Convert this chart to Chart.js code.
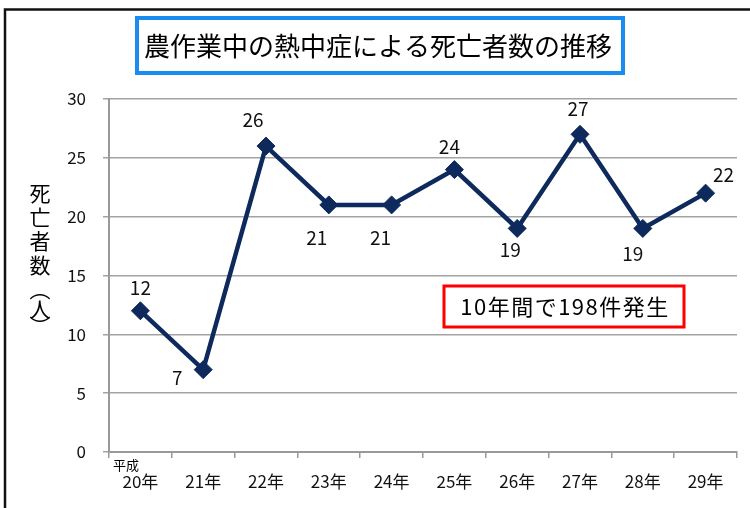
<!DOCTYPE html>
<html>
<head>
<meta charset="utf-8">
<script src="https://cdn.jsdelivr.net/npm/chart.js@4.4.1/dist/chart.umd.min.js"></script>
<style>
  html,body{margin:0;padding:0;background:#fff;overflow:hidden}
  canvas{display:block}
</style>
</head>
<body>
<canvas id="chart" width="750" height="508"></canvas>
<script>
const years = ['20年','21年','22年','23年','24年','25年','26年','27年','28年','29年'];
const deaths = [12, 7, 26, 21, 21, 24, 19, 27, 19, 22];
const yTicks = [0, 5, 10, 15, 20, 25, 30];
const chartTitle = '農作業中の熱中症による死亡者数の推移';
const yTitle = ['死', '亡', '者', '数', '︵', '人', '︶'];
const note = '10年間で198件発生';
const eraLabel = '平成';

const FONT = '"Noto Sans CJK JP", "Noto Sans", sans-serif';
const NAVY = '#0e2a5c';

// where each value label sits relative to its point
const labelShift = [[0,-23],[-26,8],[-13,-26],[-12,33],[-11,33],[-5,-23],[-7,21],[-2,-26],[-10,25],[18,-18]];

const overlay = {
  id: 'overlay',
  afterDraw(chart){
    const ctx = chart.ctx;
    ctx.save();

    // outer frame (left + top only)
    ctx.strokeStyle = '#111';
    ctx.lineWidth = 2.5;
    ctx.beginPath();
    ctx.moveTo(5, 508);
    ctx.lineTo(5, 9.5);
    ctx.lineTo(750, 9.5);
    ctx.stroke();

    // title box
    ctx.fillStyle = '#fff';
    ctx.fillRect(137, 18, 486, 55);
    ctx.strokeStyle = '#1a8cf0';
    ctx.lineWidth = 4;
    ctx.strokeRect(137, 18, 486, 55);
    ctx.fillStyle = '#000';
    ctx.font = '26px ' + FONT;
    ctx.textAlign = 'center';
    ctx.textBaseline = 'middle';
    ctx.fillText(chartTitle, 378, 46);

    // vertical y axis title
    ctx.font = '21px ' + FONT;
    const ys = [193, 217, 241, 265, 289, 309, 326];
    yTitle.forEach((c, i) => ctx.fillText(c, 40, ys[i]));

    // era label under first tick
    ctx.font = '13px ' + FONT;
    ctx.fillText(eraLabel, 126, 465);

    // note box
    ctx.fillStyle = '#fff';
    ctx.fillRect(444, 286, 240, 41);
    ctx.strokeStyle = '#ff0000';
    ctx.lineWidth = 3;
    ctx.strokeRect(444, 286, 240, 41);
    ctx.fillStyle = '#000';
    ctx.font = '22px ' + FONT;
    ctx.letterSpacing = '1.5px';
    ctx.fillText(note, 565, 307);
    ctx.letterSpacing = '0px';

    // value labels
    ctx.font = '19px ' + FONT;
    ctx.fillStyle = '#111';
    chart.getDatasetMeta(0).data.forEach((pt, i) => {
      const s = labelShift[i];
      ctx.fillText(String(deaths[i]), pt.x + s[0], pt.y + s[1]);
    });

    ctx.restore();
  }
};

new Chart(document.getElementById('chart').getContext('2d'), {
  type: 'line',
  data: {
    labels: years,
    datasets: [{
      data: deaths,
      borderColor: NAVY,
      backgroundColor: NAVY,
      borderWidth: 4.5,
      pointStyle: 'rectRot',
      pointRadius: 9,
      pointBackgroundColor: NAVY,
      pointBorderColor: NAVY,
      pointBorderWidth: 1,
      tension: 0,
      clip: false
    }]
  },
  options: {
    responsive: false,
    animation: false,
    layout: { padding: { left: 0, right: 13, top: 99, bottom: 0 } },
    plugins: { legend: { display: false }, tooltip: { enabled: false } },
    scales: {
      x: {
        offset: true,
        grid: { offset: true, drawOnChartArea: false, drawTicks: true, tickLength: 6, color: '#999', lineWidth: 1.5 },
        border: { color: '#999', width: 2 },
        ticks: { color: '#111', font: { family: FONT, size: 17 }, padding: 13, maxRotation: 0 },
        afterFit(s){ s.height = 56; }
      },
      y: {
        min: 0,
        max: 30,
        afterBuildTicks(s){ s.ticks = yTicks.map(v => ({ value: v })); },
        grid: { color: '#a3a3a3', lineWidth: 1.5, tickLength: 6 },
        border: { color: '#999', width: 2 },
        ticks: { color: '#111', font: { family: FONT, size: 17 }, padding: 17 },
        afterFit(s){ s.width = 109; }
      }
    }
  },
  plugins: [overlay]
});
</script>
</body>
</html>
